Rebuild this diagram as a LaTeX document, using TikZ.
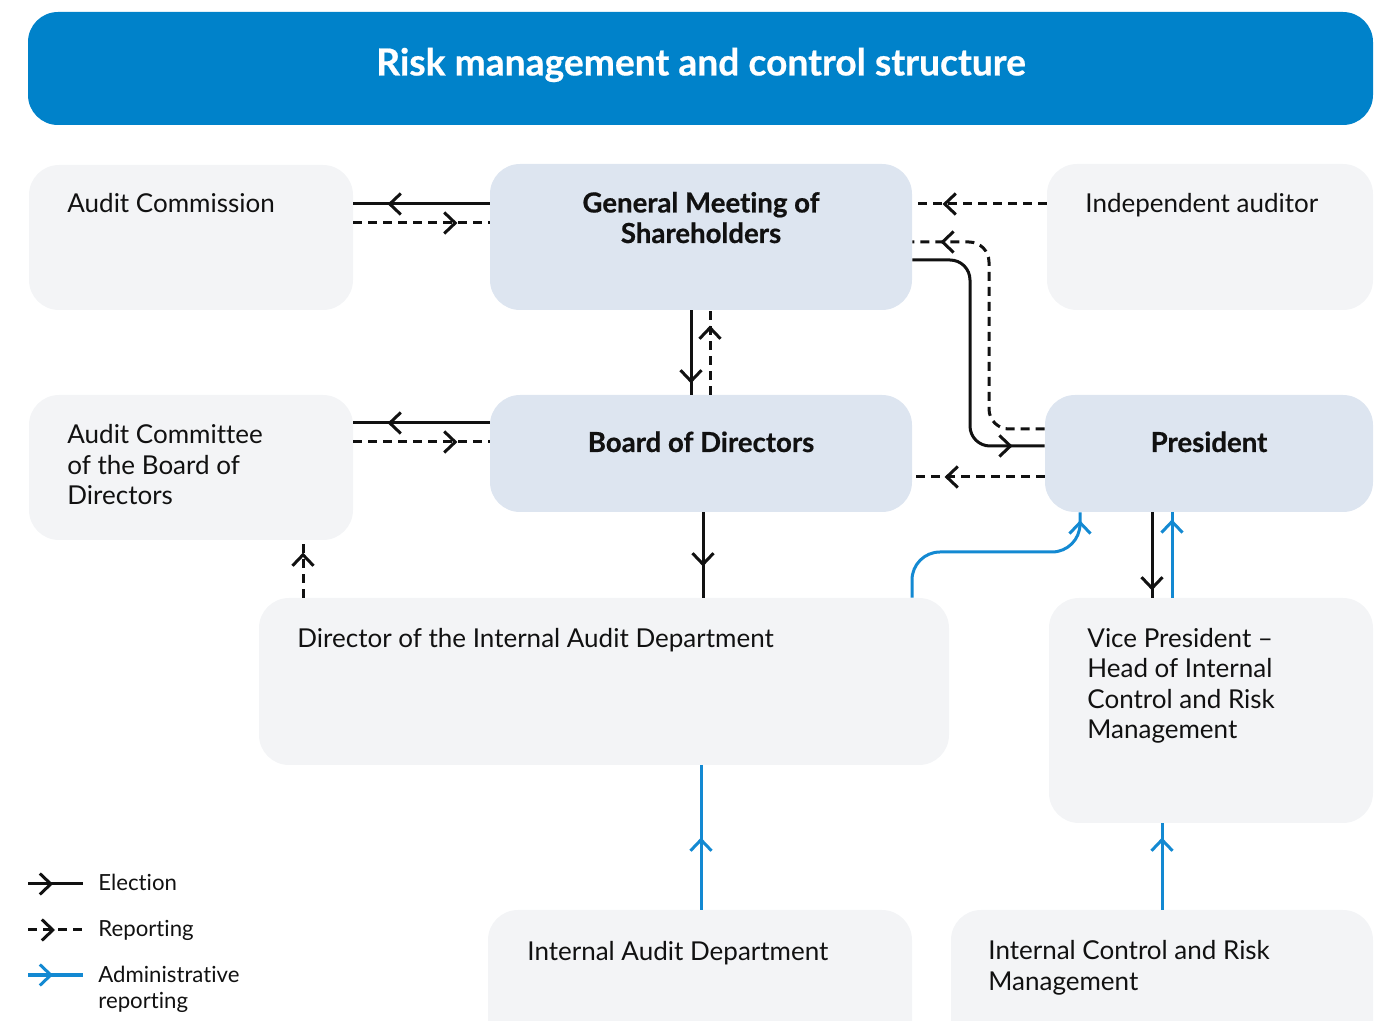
\documentclass[tikz,border=0pt]{standalone}
\usepackage{fontspec}
\setmainfont{Lato}[Ligatures=CommonOff, BoldFeatures={FakeBold=0.6}]
\usetikzlibrary{arrows.meta,decorations.markings,fit}
\definecolor{tblue}{HTML}{0082CA}
\definecolor{lblue}{HTML}{1389D2}
\definecolor{gbg}{HTML}{F3F4F6}
\definecolor{bbg}{HTML}{DDE5F0}
\definecolor{ink}{HTML}{111111}
\tikzset{
  gbox/.style={fill=gbg, rounded corners=15pt, inner sep=0pt, draw=none},
  bbox/.style={fill=bbg, rounded corners=15pt, inner sep=0pt, draw=none},
  txt/.style={font=\fontsize{13}{15.25}\selectfont, text=ink, inner sep=0pt, align=left},
  btxt/.style={font=\fontsize{13.8}{15.25}\selectfont\bfseries, text=ink, inner sep=0pt, align=center},
  ltxt/.style={font=\fontsize{11.1}{13}\selectfont, text=ink, inner sep=0pt, align=left},
  conn/.style={line width=1.5pt, ink},
  rep/.style={conn, dash pattern=on 4.5pt off 3pt},
  adm/.style={line width=1.5pt, lblue},
  tipat/.style={postaction={decorate}, decoration={markings, mark=at position #1 with {\arrow[line width=1.5pt]{Straight Barb[length=5.5pt,width=10.5pt]}}}},
}
\begin{document}
\begin{tikzpicture}[x=0.5pt,y=-0.5pt]
\useasboundingbox (0,0) rectangle (1389,1021);
% title
\node[fill=tblue, rounded corners=15pt, inner sep=0pt, fit={(28,12)(1373,125)}] (title) {};
\node[font=\fontsize{18.6}{22}\selectfont\bfseries, text=white, inner sep=0pt] (titlet) at (701,65) {Risk management and control structure};
% boxes
\node[gbox, fit={(29,165)(353,310)}] (ac) {};
\node[bbox, fit={(490,164)(912,310)}] (gms) {};
\node[gbox, fit={(1047,164)(1373,310)}] (ia) {};
\node[gbox, fit={(29,395)(353,540)}] (acb) {};
\node[bbox, fit={(490,395)(912,512)}] (bod) {};
\node[bbox, fit={(1045,395)(1373,512)}] (pres) {};
\node[gbox, fit={(259,598)(949,765)}] (dir) {};
\node[gbox, fit={(1049,598)(1373,823)}] (vp) {};
\node[gbox, fit={(488,910)(912,1060)}] (iad) {};
\node[gbox, fit={(951,910)(1373,1060)}] (icrm) {};
% texts (base anchor of a multi-line node = its last line)
\node[txt, anchor=base west] (act) at (67,213) {Audit Commission};
\node[btxt, anchor=base] (gmst) at (701,243) {General Meeting of\\Shareholders};
\node[txt, anchor=base west] (iat) at (1085,213) {Independent auditor};
\node[txt, anchor=base west] (acbt) at (67,505) {Audit Committee\\of the Board of\\Directors};
\node[btxt, anchor=base] (bodt) at (701,452) {Board of Directors};
\node[btxt, anchor=base] (prest) at (1209,452) {President};
\node[txt, anchor=base west] (dirt) at (297,648) {Director of the Internal Audit Department};
\node[txt, anchor=base west] (vpt) at (1087,739) {Vice President --\\Head of Internal\\Control and Risk\\Management};
\node[txt, anchor=base west] (iadt) at (527,960) {Internal Audit Department};
\node[txt, anchor=base west] (icrmt) at (988,990) {Internal Control and Risk\\Management};
% connectors
\draw[conn, tipat=51pt] (gms.west |- 0,204) -- (ac.east |- 0,204);
\draw[rep, tipat=52pt] (ac.east |- 0,223) -- (gms.west |- 0,223);
\draw[conn, tipat=51pt] (bod.west |- 0,423) -- (acb.east |- 0,423);
\draw[rep, tipat=52pt] (acb.east |- 0,442) -- (bod.west |- 0,442);
\draw[conn, tipat=36.5pt] (gms.south -| 691,0) -- (bod.north -| 691,0);
\draw[rep, tipat=34.5pt] (bod.north -| 710,0) -- (gms.south -| 710,0);
\draw[rep, tipat=52pt] (ia.west |- 0,204) -- (gms.east |- 0,204);
\draw[rep, rounded corners=10pt, tipat=-14pt] (pres.west |- 0,429) -- (989,429) -- (989,242) -- (gms.east |- 0,242);
\draw[conn, rounded corners=10pt, tipat=-16pt] (gms.east |- 0,260) -- (970,260) -- (970,446) -- (pres.west |- 0,446);
\draw[rep, tipat=50pt] (pres.west |- 0,477) -- (bod.east |- 0,477);
\draw[conn, tipat=27pt] (bod.south -| 703,0) -- (dir.north -| 703,0);
\draw[rep, tipat=22.5pt] (dir.north -| 303,0) -- (acb.south -| 303,0);
\draw[adm, rounded corners=14pt, tipat=-4pt] (dir.north -| 912,0) -- (912,552) -- (1080,552) -- (pres.south -| 1080,0);
\draw[conn, tipat=39pt] (pres.south -| 1152,0) -- (vp.north -| 1152,0);
\draw[adm, tipat=-3.5pt] (vp.north -| 1172,0) -- (pres.south -| 1172,0);
\draw[adm, tipat=36pt] (iad.north -| 701,0) -- (dir.south -| 701,0);
\draw[adm, tipat=36pt] (icrm.north -| 1162,0) -- (vp.south -| 1162,0);
% legend
\coordinate (l1a) at (28,884); \coordinate (l1b) at (83,884);
\coordinate (l2a) at (28,930); \coordinate (l2b) at (83,930);
\coordinate (l3a) at (28,975); \coordinate (l3b) at (83,975);
\draw[conn, tipat=12.5pt] (l1a) -- (l1b);
\draw[rep, tipat=13.5pt] (l2a) -- (l2b);
\draw[adm, tipat=12.5pt] (l3a) -- (l3b);
\node[ltxt, anchor=base west] (lt1) at (98,891) {Election};
\node[ltxt, anchor=base west] (lt2) at (98,936) {Reporting};
\node[ltxt, anchor=base west] (lt3) at (98,1008) {Administrative\\reporting};
\end{tikzpicture}
\end{document}
